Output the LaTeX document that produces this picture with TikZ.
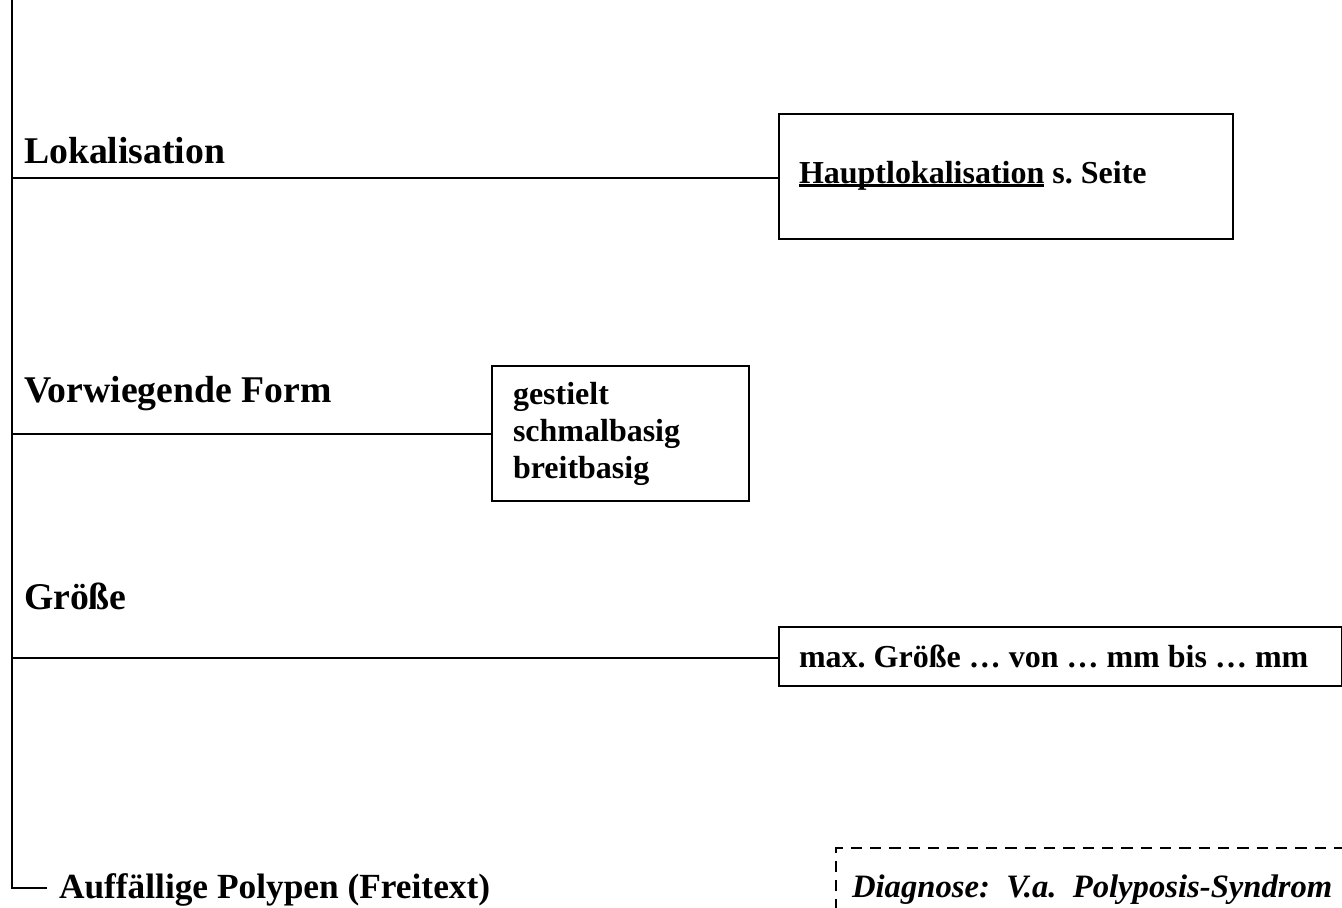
\documentclass[tikz,border=0pt]{standalone}
\usepackage{fontspec}
\setmainfont{Liberation Serif}
\frenchspacing

\newcommand{\ulword}[1]{\setbox0\hbox{#1}\rlap{\rule[-0.11em]{\wd0}{0.07em}}\box0\relax}

\tikzset{every picture/.style={line width=1.5pt}}
\tikzset{
  heading/.style={anchor=base west,inner sep=0.75pt,font=\fontsize{28.3}{32}\selectfont\bfseries},
  optbox/.style={draw,anchor=north west,inner sep=0pt,outer sep=0pt},
  boxtext/.style={anchor=base west,inner sep=0.75pt,align=left,font=\fontsize{24}{27.75}\selectfont\bfseries},
}

\begin{document}
\begin{tikzpicture}[x=0.75pt,y=0.75pt,yscale=-1,xscale=1]
\useasboundingbox (0,0) rectangle (1342,907);

% trunk points
\coordinate (top) at (12,0);
\coordinate (tLok) at (12,178);
\coordinate (tForm) at (12,434);
\coordinate (tGr) at (12,658);
\coordinate (tEnd) at (12,888);
\coordinate (endTip) at (47,888);

% Shape: Rectangle
\node [optbox,minimum width=340.5pt,minimum height=93.75pt] (boxLok) at (779,114) {};
% Shape: Rectangle
\node [optbox,minimum width=192.75pt,minimum height=101.25pt] (boxForm) at (492,366) {};
% Shape: Rectangle
\node [optbox,minimum width=422.25pt,minimum height=44.25pt] (boxGr) at (779,627) {};
% Shape: Rectangle (dashed)
\draw [dash pattern=on 8.5pt off 6pt] (836,930) -- (836,848) -- (1360,848) ;

% Straight Lines
\draw (top) -- (tEnd) -- (endTip) ;
\draw (tLok) -- (boxLok.west |- tLok) ;
\draw (tForm) -- (boxForm.west |- tForm) ;
\draw (tGr) -- (boxGr.west |- tGr) ;

% Text Node
\node [heading] (lok) at (22,163) {Lokalisation};
% Text Node
\node [heading] (form) at (22,402) {Vorwiegende Form};
% Text Node
\node [heading] (gr) at (22,609) {Größe};
% Text Node
\node [heading,font=\fontsize{26.5}{31}\selectfont\bfseries] (auff) at (57,898) {Auffällige Polypen (Freitext)};

% Text Node
\node [boxtext] (haupt) at (797,183) {\ulword{Hauptlokalisation} s. Seite};
% Text Node
\node [boxtext] (formen) at (511,478) {gestielt\\schmalbasig\\breitbasig};
% Text Node
\node [boxtext] (maxgr) at (797,667) {max. Größe … von … mm bis … mm};
% Text Node
\node [boxtext,font=\fontsize{24.5}{27.75}\selectfont\bfseries\itshape] (diag) at (850,897) {Diagnose:\ \ V.a.\ \ Polyposis-Syndrom};

\end{tikzpicture}
\end{document}
